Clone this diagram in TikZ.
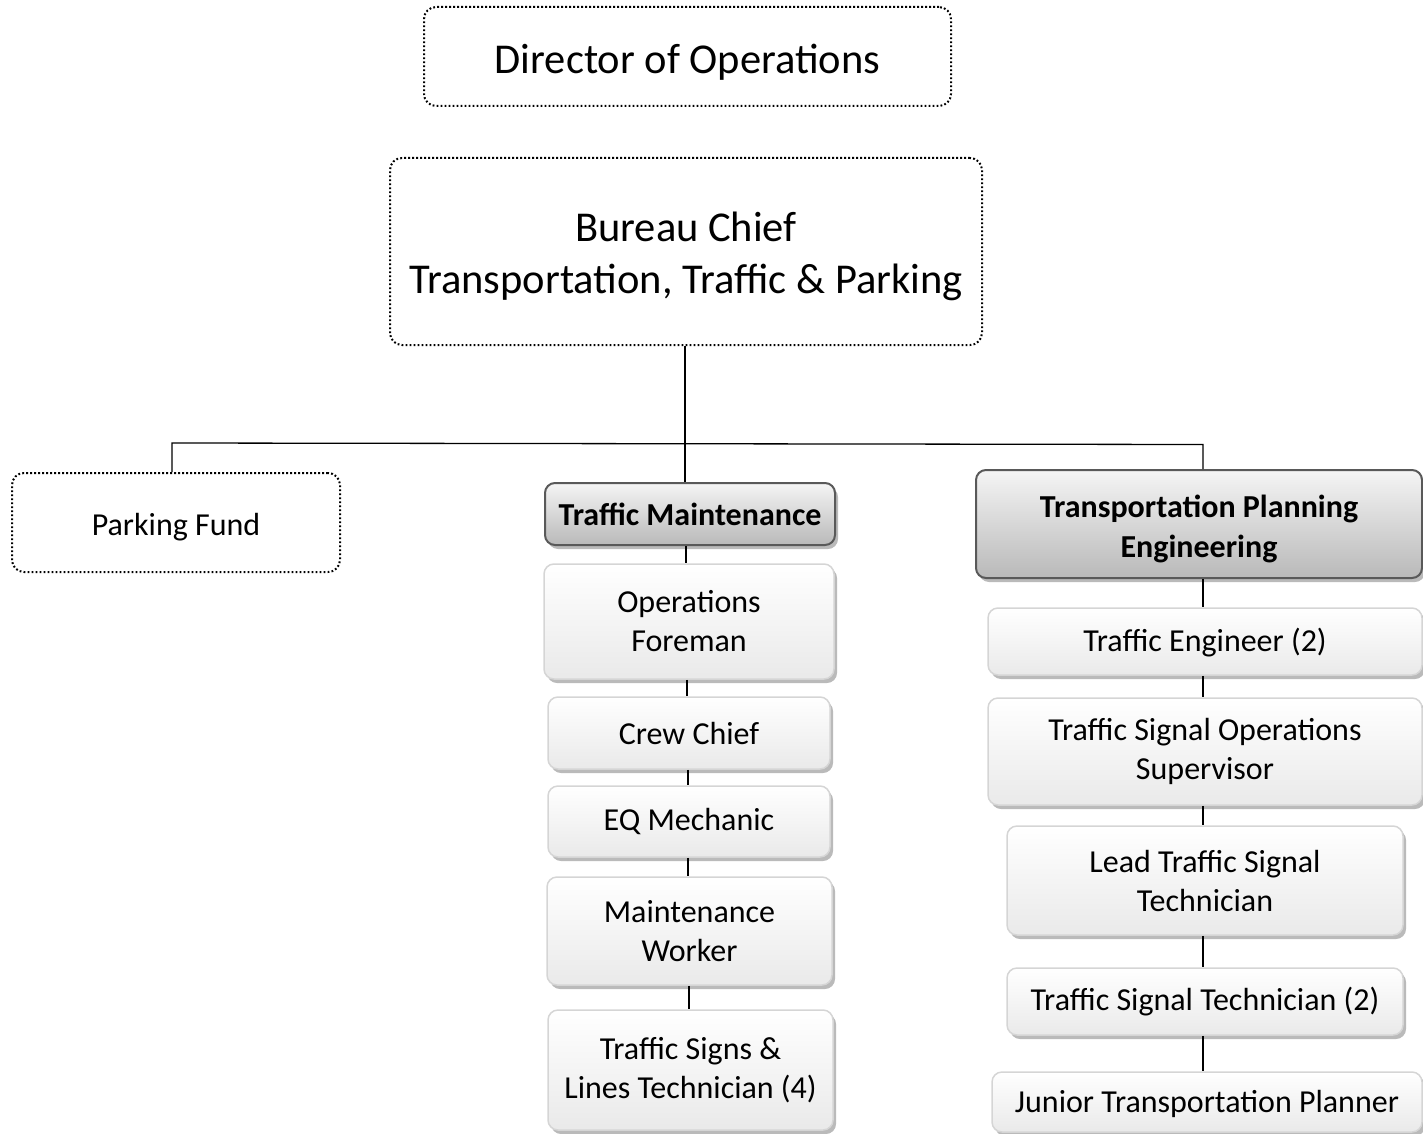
\documentclass[tikz,border=0pt]{standalone}
\usepackage{fontspec}
\setmainfont{Carlito}
\usetikzlibrary{shadows}
\begin{document}
\begin{tikzpicture}[x=1pt,y=-1pt,
  conn/.style={draw=black, line width=1.3pt},
  dotbox/.style={draw=black, line width=2pt, dash pattern=on 1.8pt off 2.2pt,
    rounded corners=12pt, align=center, inner sep=0pt, font=\fontsize{32}{39}\selectfont},
  bigfont/.style={font=\fontsize{42.5}{52}\selectfont},
  lightbox/.style={draw=gray!33, line width=1.5pt, top color=white, bottom color=gray!17,
    rounded corners=10pt, align=center, inner sep=0pt, font=\fontsize{32}{39}\selectfont,
    drop shadow={shadow xshift=3pt, shadow yshift=-4pt, fill=gray!60, opacity=0.9}},
  darkbox/.style={draw=black!65, line width=2pt, top color=gray!8, bottom color=gray!55,
    rounded corners=10pt, align=center, inner sep=0pt, font=\fontsize{32}{40}\selectfont\bfseries,
    drop shadow={shadow xshift=3pt, shadow yshift=-4pt, fill=gray!60, opacity=0.9}}
]
\useasboundingbox (0,0) rectangle (1423,1134);
% top boxes
\node[dotbox, bigfont, minimum width=527pt, minimum height=99pt] (dir) at (687.5,56.5) {\rule{0pt}{40pt}Director of Operations};
\node[dotbox, bigfont, minimum width=592pt, minimum height=187pt] (bc) at (686,251.5) {\rule{0pt}{40pt}Bureau Chief\\Transportation, Traffic \& Parking};
\node[dotbox, minimum width=328pt, minimum height=99pt] (pf) at (176,522.5) {\rule{0pt}{32pt}Parking Fund};
% left column
\node[darkbox, minimum width=290pt, minimum height=62pt] (tm) at (690,514) {Traffic Maintenance};
\node[lightbox, minimum width=290pt, minimum height=115pt] (of) at (689,621.5) {Operations\\Foreman};
\node[lightbox, minimum width=282pt, minimum height=72pt] (cc) at (689,733) {Crew Chief};
\node[lightbox, minimum width=282pt, minimum height=71pt] (eq) at (689,821.5) {EQ Mechanic};
\node[lightbox, minimum width=285pt, minimum height=108pt] (mw) at (689.5,931) {Maintenance\\Worker};
\node[lightbox, minimum width=285pt, minimum height=120pt] (ts) at (690.5,1070) {Traffic Signs \&\\Lines Technician (4)};
% right column
\node[darkbox, minimum width=446pt, minimum height=108pt] (tpe) at (1199,524) {\rule{0pt}{32pt}Transportation Planning\\Engineering};
\node[lightbox, minimum width=434pt, minimum height=67pt] (te) at (1205,641.5) {\rule{0pt}{26pt}Traffic Engineer (2)};
\node[lightbox, minimum width=434pt, minimum height=107pt] (tso) at (1205,751.5) {Traffic Signal Operations\\Supervisor};
\node[lightbox, minimum width=396pt, minimum height=109pt] (lts) at (1205,880.5) {Lead Traffic Signal\\Technician};
\node[lightbox, minimum width=396pt, minimum height=67pt] (tst) at (1205,1001.5) {Traffic Signal Technician (2)};
\node[lightbox, minimum width=430pt, minimum height=60pt] (jtp) at (1207,1102) {\rule{0pt}{26pt}Junior Transportation Planner};
% connectors
\coordinate (jl) at (172,443);
\coordinate (jm) at (685,443.5);
\coordinate (jr) at (1203,444.5);
\draw[conn] (jl |- pf.north) -- (jl) -- (jr) -- (jr |- tpe.north);
\draw[conn] (jm |- bc.south) -- (jm |- tm.north);
\draw[conn] (686,0 |- tm.south) -- (686,0 |- of.north);
\draw[conn] (687,0 |- of.south) -- (687,0 |- cc.north);
\draw[conn] (688,0 |- cc.south) -- (688,0 |- eq.north);
\draw[conn] (688,0 |- eq.south) -- (688,0 |- mw.north);
\draw[conn] (689,0 |- mw.south) -- (689,0 |- ts.north);
\draw[conn] (jr |- tpe.south) -- (jr |- te.north);
\draw[conn] (jr |- te.south) -- (jr |- tso.north);
\draw[conn] (jr |- tso.south) -- (jr |- lts.north);
\draw[conn] (jr |- lts.south) -- (jr |- tst.north);
\draw[conn] (jr |- tst.south) -- (jr |- jtp.north);
\end{tikzpicture}
\end{document}
